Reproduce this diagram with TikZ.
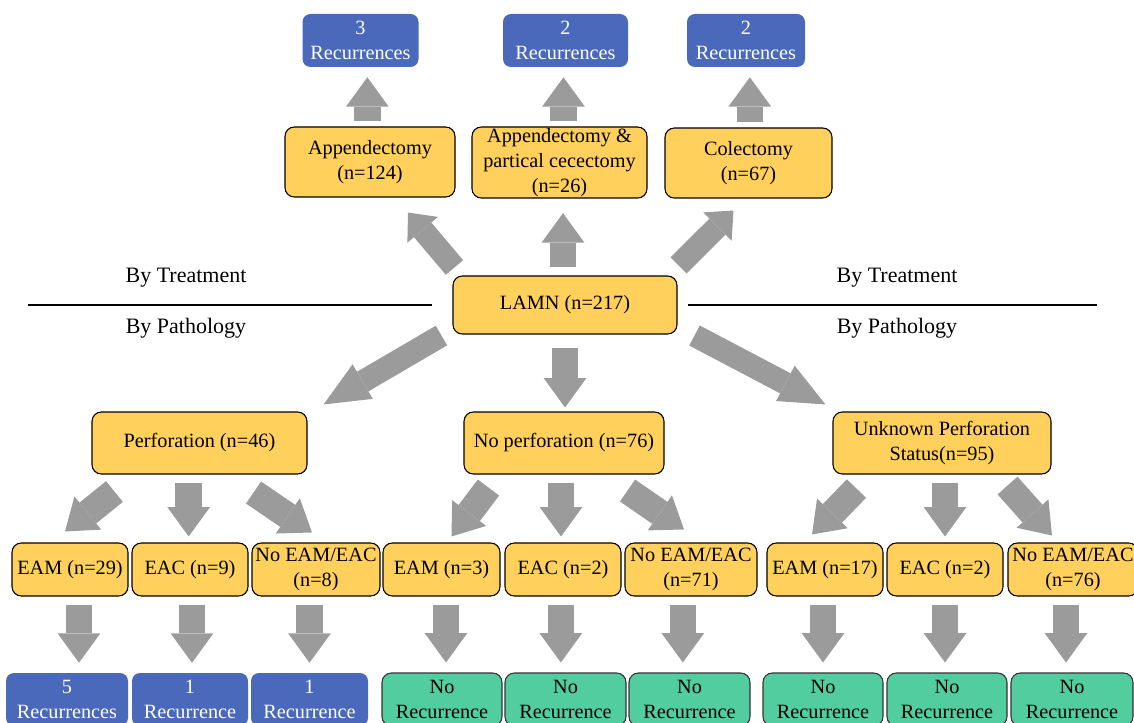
\documentclass[tikz,border=0pt]{standalone}
\usepackage{fontspec}
\setmainfont{Liberation Serif}
\usetikzlibrary{arrows.meta,calc}

\definecolor{boxyellow}{HTML}{FFD05C}
\definecolor{boxblue}{HTML}{4A69BB}
\definecolor{boxgreen}{HTML}{52CDA0}
\definecolor{arrowgray}{HTML}{9B9B9B}

\tikzset{
  ybox/.style={draw=black, line width=0.8pt, fill=boxyellow, rounded corners=7pt,
    align=center, inner sep=0pt, minimum height=39.75pt},
  bbox/.style={fill=boxblue, text=white, rounded corners=6pt,
    align=center, inner sep=0pt, minimum height=39.75pt},
  gbox/.style={draw=black!80, line width=0.8pt, fill=boxgreen, rounded corners=7pt,
    align=center, inner sep=0pt, minimum height=39.75pt},
  fatarrow/.style={draw=arrowgray, line width=20pt,
    -{Triangle[length=22pt,width=32pt,line width=0pt]}},
  slimarrow/.style={draw=arrowgray, line width=17pt,
    -{Triangle[length=17pt,width=30pt,line width=0pt]}},
  longarrow/.style={draw=arrowgray, line width=17pt,
    -{Triangle[length=34pt,width=30pt,line width=0pt]}},
  sidelabel/.style={font=\fontsize{16.5}{20}\selectfont}
}

\begin{document}
\begin{tikzpicture}[x=0.75pt, y=-0.75pt, font=\fontsize{15.2}{18.8}\selectfont]
  \useasboundingbox (0,0) rectangle (1134,723);
  \clip (0,0) rectangle (1134,723);

  % Recurrences by treatment
  \node[bbox, minimum width=87pt] (rec1) at (360.5,40.5) {3\\Recurrences};
  \node[bbox, minimum width=93.75pt] (rec2) at (565.5,40.5) {2\\Recurrences};
  \node[bbox, minimum width=88.5pt] (rec3) at (746,40.5) {2\\Recurrences};

  % Treatment
  \node[ybox, minimum width=127.5pt, minimum height=52.5pt] (app) at (370,162) {Appendectomy\\(n=124)};
  \node[ybox, minimum width=131.25pt, minimum height=53.25pt] (appcec) at (559.5,162.5) {Appendectomy \&\\partical cecectomy\\(n=26)};
  \node[ybox, minimum width=125.25pt, minimum height=52.5pt] (col) at (748.5,163) {Colectomy\\(n=67)};

  % Root
  \node[ybox, minimum width=168pt, minimum height=43.5pt] (lamn) at (565,305) {LAMN (n=217)};

  % Side labels
  \node[sidelabel] (treatl) at (186,278) {By Treatment};
  \node[sidelabel] (pathl) at (186,328) {By Pathology};
  \node[sidelabel] (treatr) at (897,278) {By Treatment};
  \node[sidelabel] (pathr) at (897,328) {By Pathology};
  \draw[line width=0.9pt] (28,305) -- (432,305);
  \draw[line width=0.9pt] (688,305) -- (1097,305);

  % Pathology
  \node[ybox, minimum width=161.25pt, minimum height=46.5pt] (perf) at (199.5,443) {Perforation (n=46)};
  \node[ybox, minimum width=150pt, minimum height=46.5pt] (noperf) at (564,443) {No perforation (n=76)};
  \node[ybox, minimum width=163.5pt, minimum height=46.5pt] (unk) at (942,443) {Unknown Perforation\\Status(n=95)};

  % EAM / EAC
  \node[ybox, minimum width=87pt] (p1) at (70,569.5) {EAM (n=29)};
  \node[ybox, minimum width=87pt] (p2) at (190,569.5) {EAC (n=9)};
  \node[ybox, minimum width=96pt] (p3) at (316,569.5) {No EAM/EAC\\(n=8)};
  \node[ybox, minimum width=87.75pt] (n1) at (441.5,569.5) {EAM (n=3)};
  \node[ybox, minimum width=87pt] (n2) at (563,569.5) {EAC (n=2)};
  \node[ybox, minimum width=99pt] (n3) at (691,569.5) {No EAM/EAC\\(n=71)};
  \node[ybox, minimum width=87pt] (u1) at (825,569.5) {EAM (n=17)};
  \node[ybox, minimum width=87pt] (u2) at (945,569.5) {EAC (n=2)};
  \node[ybox, minimum width=97.5pt] (u3) at (1073,569.5) {No EAM/EAC\\(n=76)};

  % Outcomes
  \node[bbox, minimum width=91.5pt] (r1) at (67,699.5) {5\\Recurrences};
  \node[bbox, minimum width=87pt] (r2) at (190,699.5) {1\\Recurrence};
  \node[bbox, minimum width=87.75pt] (r3) at (309.5,699.5) {1\\Recurrence};
  \node[gbox, minimum width=90pt] (g1) at (442,699.5) {No\\Recurrence};
  \node[gbox, minimum width=90.75pt] (g2) at (565.5,699.5) {No\\Recurrence};
  \node[gbox, minimum width=90.75pt] (g3) at (689.5,699.5) {No\\Recurrence};
  \node[gbox, minimum width=90pt] (g4) at (823,699.5) {No\\Recurrence};
  \node[gbox, minimum width=90pt] (g5) at (947,699.5) {No\\Recurrence};
  \node[gbox, minimum width=91.5pt] (g6) at (1072,699.5) {No\\Recurrence};

  % Arrows: treatment branch
  \draw[fatarrow, shorten <=3.75pt, shorten >=7.5pt] ([xshift=-2pt]app.north) -- ([xshift=-2pt]app.north |- rec1.south);
  \draw[fatarrow, shorten <=3.75pt, shorten >=7.5pt] ([xshift=3pt]appcec.north) -- ([xshift=3pt]appcec.north |- rec2.south);
  \draw[fatarrow, shorten <=3.75pt, shorten >=7.5pt] ([xshift=1pt]col.north) -- ([xshift=1pt]col.north |- rec3.south);
  \draw[slimarrow] ($(lamn.north west)+(2,-8)$) -- ($(app.south)+(38,15)$);
  \draw[fatarrow, shorten <=6pt, shorten >=11pt] ([xshift=-1.5pt]lamn.north) -- ([xshift=-1.5pt]lamn.north |- appcec.south);
  \draw[slimarrow] ($(lamn.north east)+(1,-10)$) -- ($(col.south)+(-15,12)$);

  % Arrows: pathology branch
  \draw[longarrow] ($(lamn.south west)+(-11,1)$) -- ($(perf.north east)+(16,-7)$);
  \draw[fatarrow, shorten <=10pt, shorten >=3pt] (lamn.south) -- (lamn.south |- noperf.north);
  \draw[longarrow] ($(lamn.south east)+(17,1)$) -- ($(unk.north west)+(-7,-7)$);

  \draw[fatarrow] ($(perf.south west)+(23,17)$) -- ($(p1.north)+(-5,-11)$);
  \draw[fatarrow, shorten <=6pt, shorten >=4.5pt] ([xshift=-1pt]p2.north |- perf.south) -- ([xshift=-1pt]p2.north);
  \draw[fatarrow] ($(perf.south east)+(-54,18)$) -- ($(p3.north)+(-4,-10)$);

  \draw[fatarrow] ($(noperf.south west)+(25,13)$) -- ($(n1.north)+(10,-6)$);
  \draw[fatarrow, shorten <=6pt, shorten >=4.5pt] ([xshift=-1.5pt]n2.north |- noperf.south) -- ([xshift=-1.5pt]n2.north);
  \draw[fatarrow] ($(noperf.south east)+(-37,16)$) -- ($(n3.north)+(-7,-13)$);

  \draw[fatarrow] ($(unk.south west)+(24,14)$) -- ($(u1.north)+(-13,-8)$);
  \draw[fatarrow, shorten <=6pt, shorten >=4.5pt] (u2.north |- unk.south) -- (u2.north);
  \draw[fatarrow] ($(unk.south east)+(-44,11)$) -- ($(u3.north)+(-21,-7)$);

  % Arrows: outcomes
  \draw[fatarrow, shorten <=6pt, shorten >=7.5pt] ([xshift=9pt]r1.north |- p1.south) -- ([xshift=9pt]r1.north);
  \draw[fatarrow, shorten <=6pt, shorten >=7.5pt] ([xshift=1.5pt]r2.north |- p2.south) -- ([xshift=1.5pt]r2.north);
  \draw[fatarrow, shorten <=6pt, shorten >=7.5pt] (r3.north |- p3.south) -- (r3.north);
  \draw[fatarrow, shorten <=6pt, shorten >=7.5pt] ([xshift=3pt]g1.north |- n1.south) -- ([xshift=3pt]g1.north);
  \draw[fatarrow, shorten <=6pt, shorten >=7.5pt] ([xshift=-3.5pt]g2.north |- n2.south) -- ([xshift=-3.5pt]g2.north);
  \draw[fatarrow, shorten <=6pt, shorten >=7.5pt] ([xshift=-5pt]g3.north |- n3.south) -- ([xshift=-5pt]g3.north);
  \draw[fatarrow, shorten <=6pt, shorten >=7.5pt] (g4.north |- u1.south) -- (g4.north);
  \draw[fatarrow, shorten <=6pt, shorten >=7.5pt] ([xshift=-1.5pt]g5.north |- u2.south) -- ([xshift=-1.5pt]g5.north);
  \draw[fatarrow, shorten <=6pt, shorten >=7.5pt] ([xshift=-4.5pt]g6.north |- u3.south) -- ([xshift=-4.5pt]g6.north);
\end{tikzpicture}
\end{document}
